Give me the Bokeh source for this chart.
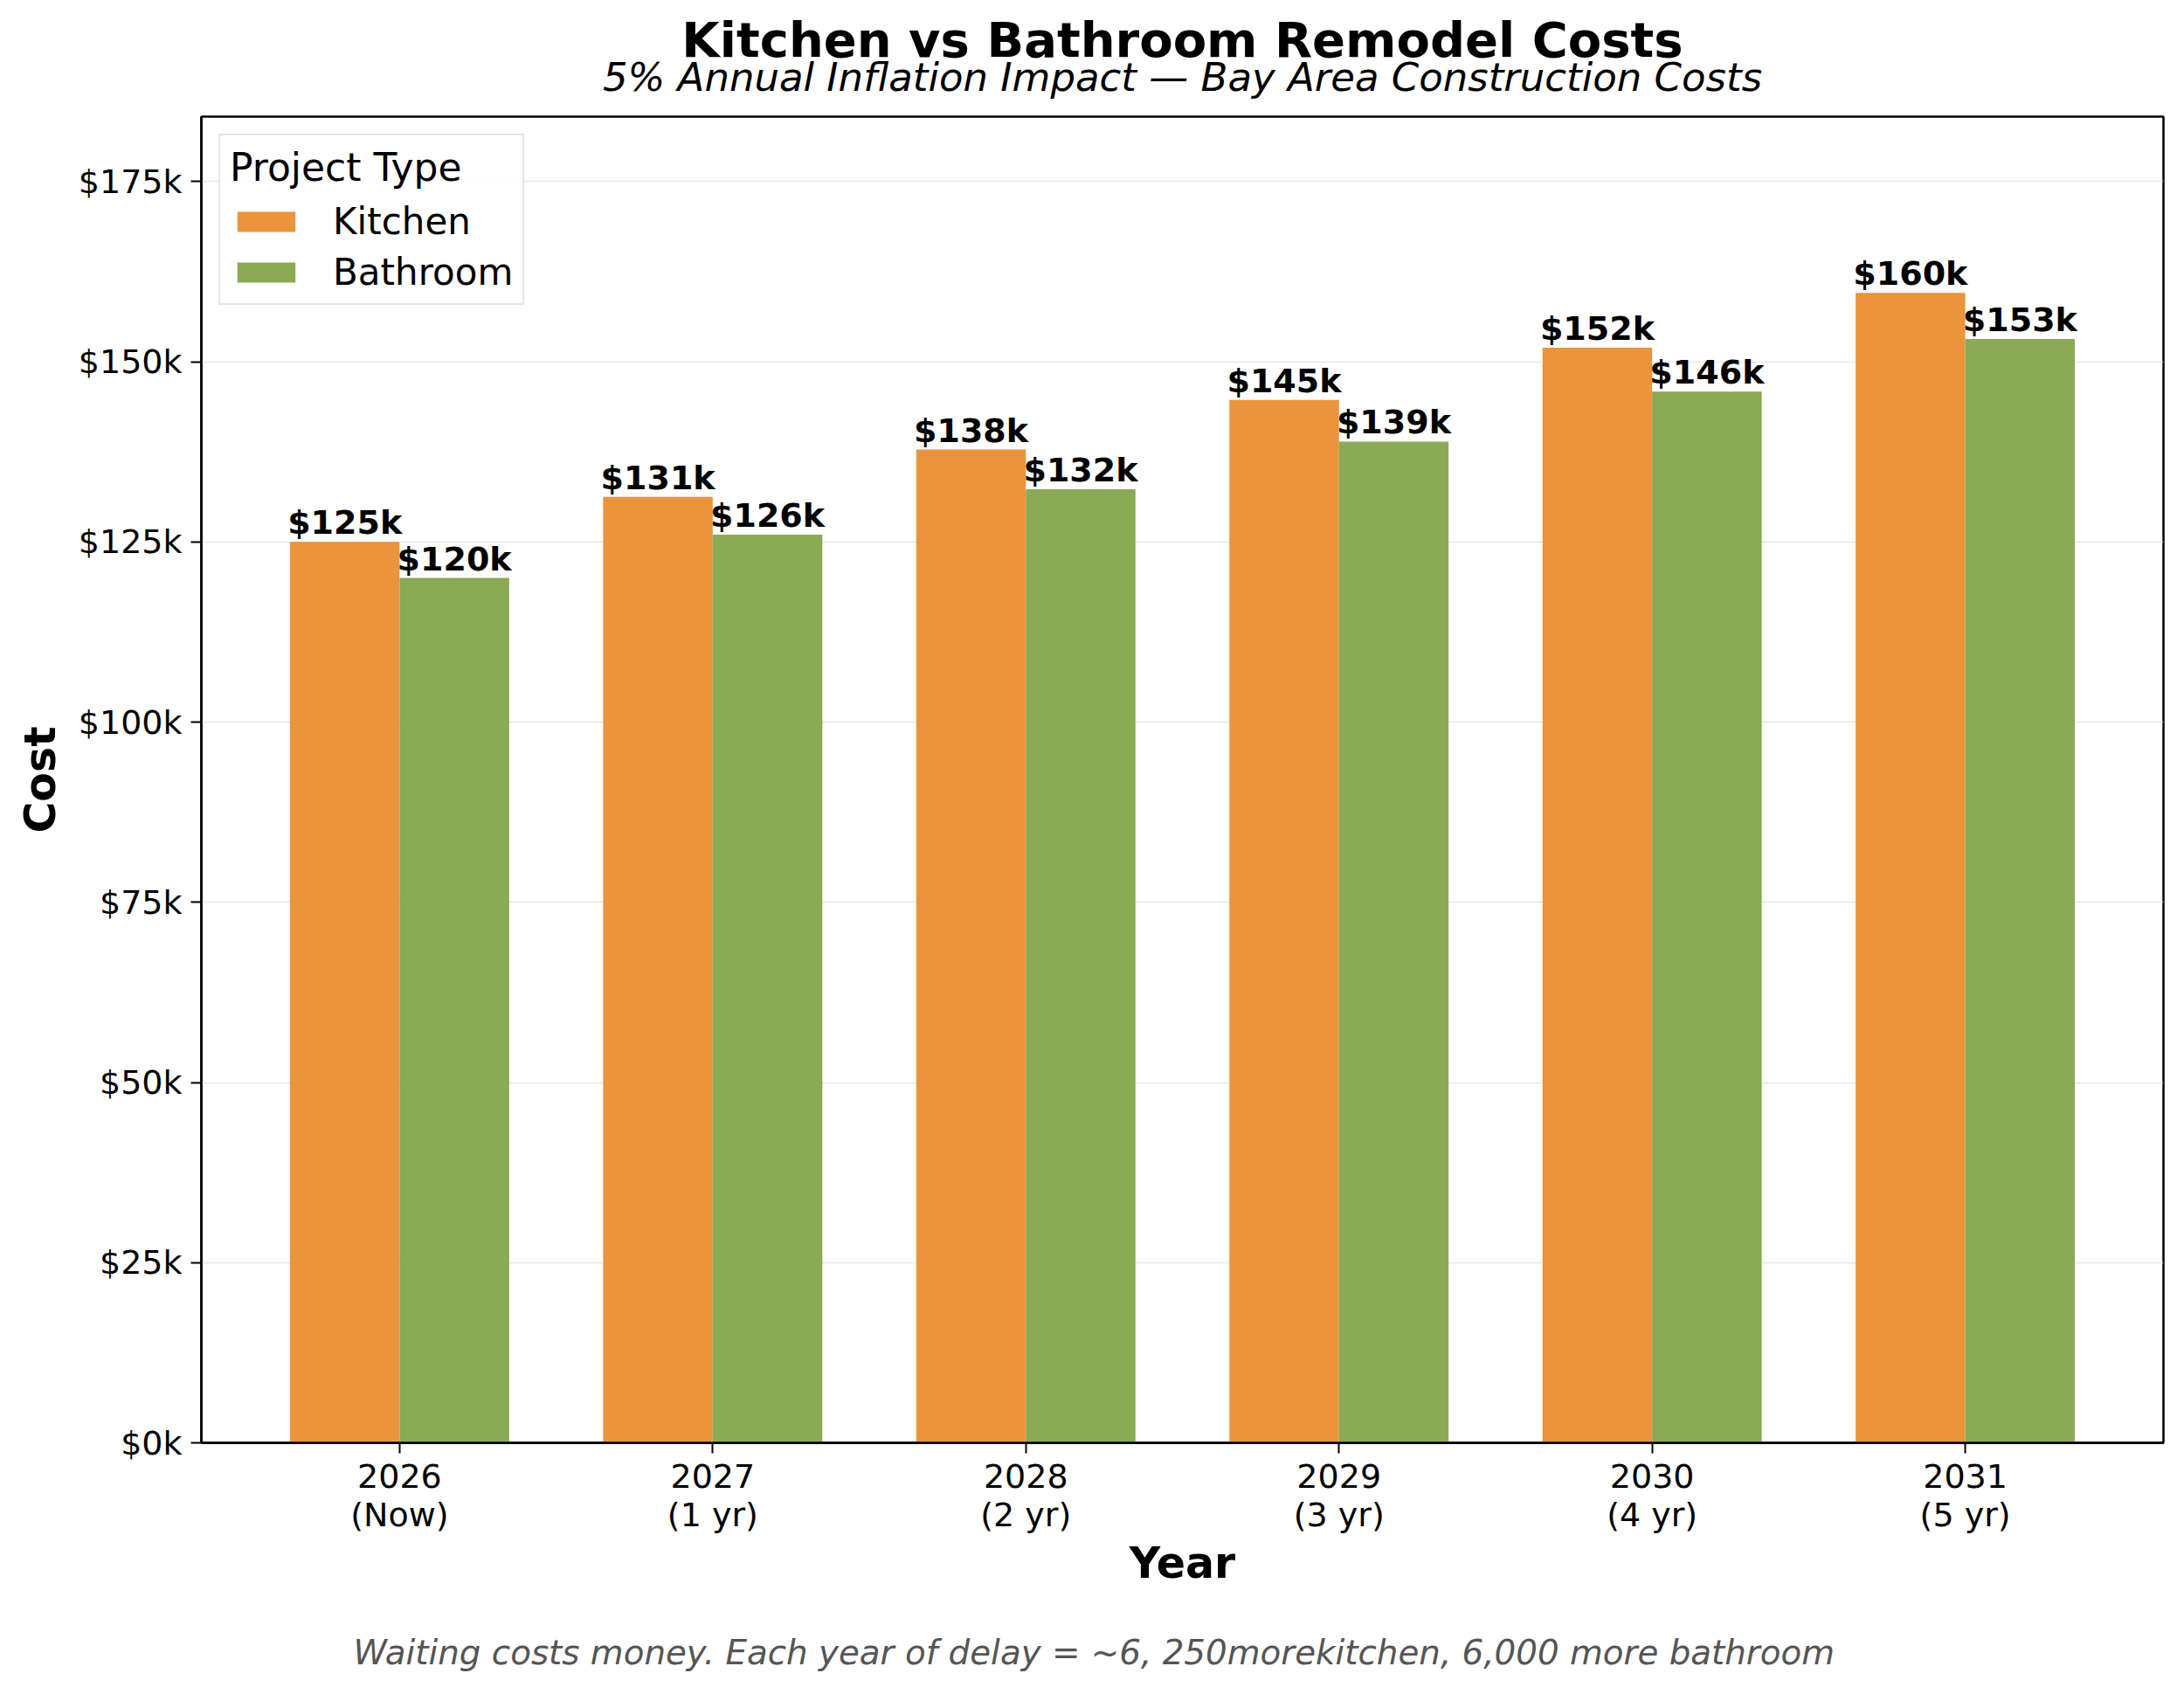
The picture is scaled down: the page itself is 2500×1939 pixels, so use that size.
from bokeh.plotting import figure
from bokeh.models import FixedTicker, Legend, LegendItem, ColumnDataSource, Range1d, Title
from bokeh.core.properties import value
from bokeh.embed import file_html
from bokeh.resources import INLINE

# data
years = ["2026\n(Now)", "2027\n(1 yr)", "2028\n(2 yr)", "2029\n(3 yr)", "2030\n(4 yr)", "2031\n(5 yr)"]
kitchen = [125000, 131250, 137812, 144703, 151938, 159535]
bathroom = [120000, 126000, 132300, 138915, 145861, 153154]
kitchen_labels = ["$125k", "$131k", "$138k", "$145k", "$152k", "$160k"]
bathroom_labels = ["$120k", "$126k", "$132k", "$139k", "$146k", "$153k"]
y_ticks = [0, 25000, 50000, 75000, 100000, 125000, 150000, 175000]
y_tick_labels = ["$0k", "$25k", "$50k", "$75k", "$100k", "$125k", "$150k", "$175k"]

title = "Kitchen vs Bathroom Remodel Costs"
subtitle = "5% Annual Inflation Impact \u2014 Bay Area Construction Costs"
footnote = "Waiting costs money. Each year of delay = ~6, 250morekitchen,  6,000 more bathroom"

FONT = "DejaVu Sans"
ORANGE = "#EA943C"
GREEN = "#8AAA55"
bar_w = 0.35

idx = list(range(len(years)))
k_src = ColumnDataSource(dict(x=[i - bar_w / 2 for i in idx], top=kitchen, label=kitchen_labels))
b_src = ColumnDataSource(dict(x=[i + bar_w / 2 for i in idx], top=bathroom, label=bathroom_labels))

p = figure(width=2484, height=1923, output_backend="svg", toolbar_location=None,
           x_range=Range1d(-0.633, len(years) - 1 + 0.633), y_range=Range1d(0, 184000),
           min_border_left=230, min_border_right=8, min_border_top=133, min_border_bottom=272)
p.title = None

rk = p.vbar(x="x", top="top", width=bar_w, source=k_src, fill_color=ORANGE, line_color=None)
rb = p.vbar(x="x", top="top", width=bar_w, source=b_src, fill_color=GREEN, line_color=None)

for src in (k_src, b_src):
    p.text(x="x", y="top", text="label", source=src, text_align="center", text_baseline="bottom",
           text_font=value(FONT), text_font_size="38px", text_font_style="bold", text_color="black")

# axes
p.xaxis.ticker = FixedTicker(ticks=idx)
p.xaxis.major_label_overrides = {i: lab for i, lab in zip(idx, years)}
p.yaxis.ticker = FixedTicker(ticks=y_ticks)
p.yaxis.major_label_overrides = {t: lab for t, lab in zip(y_ticks, y_tick_labels)}
p.xaxis.minor_tick_line_color = None
p.yaxis.minor_tick_line_color = None
for ax in (p.xaxis, p.yaxis):
    ax.major_label_text_font = FONT
    ax.major_label_text_font_size = "38px"
    ax.major_label_text_color = "black"
    ax.major_tick_out = 12
    ax.major_tick_in = 0
    ax.major_tick_line_width = 2
    ax.axis_line_width = 2.5
    ax.axis_line_color = "black"
    ax.axis_label_text_font = FONT
    ax.axis_label_text_font_size = "49px"
    ax.axis_label_text_font_style = "bold"
    ax.axis_label_text_color = "black"
p.xaxis.axis_label = "Year"
p.yaxis.axis_label = "Cost"
p.xaxis.major_label_text_line_height = 1.0
p.xaxis.major_label_standoff = 4
p.yaxis.major_label_standoff = 10
p.xaxis.axis_label_standoff = 2
p.yaxis.axis_label_standoff = 12

p.xgrid.grid_line_color = None
p.ygrid.grid_line_color = "#dddddd"
p.ygrid.grid_line_alpha = 0.7
p.ygrid.grid_line_width = 1.5
p.outline_line_color = "black"
p.outline_line_width = 2.5

legend = Legend(items=[LegendItem(label="Kitchen", renderers=[rk]),
                       LegendItem(label="Bathroom", renderers=[rb])],
                location="top_left", title="Project Type")
legend.title_text_font = FONT
legend.title_text_font_size = "44px"
legend.title_text_font_style = "normal"
legend.title_text_color = "black"
legend.title_standoff = 12
legend.label_text_font = FONT
legend.label_text_font_size = "42px"
legend.label_text_color = "black"
legend.glyph_width = 83
legend.glyph_height = 29
legend.label_standoff = 35
legend.padding = 11
legend.spacing = 9
legend.margin = 20
legend.border_line_color = "#cccccc"
legend.border_line_width = 2
legend.background_fill_alpha = 0.8
p.add_layout(legend)

# subtitle first (closest to the frame), then the main title above it
p.add_layout(Title(text=subtitle, align="center", vertical_align="top", text_font=FONT,
                   text_font_size="45px", text_font_style="italic", text_color="black",
                   standoff=34), "above")
p.add_layout(Title(text=title, align="center", text_font=FONT, text_font_size="56px",
                   text_font_style="bold", text_color="black", standoff=-66), "above")
# leading blank line pushes the note further below the axis label
p.add_layout(Title(text="\n" + footnote, align="left", offset=174, vertical_align="top",
                   text_font=FONT, text_font_size="38.8px", text_line_height=1.08,
                   text_font_style="italic", text_color="#555555", standoff=0), "below")

open("out.html", "w").write(file_html(p, INLINE))
